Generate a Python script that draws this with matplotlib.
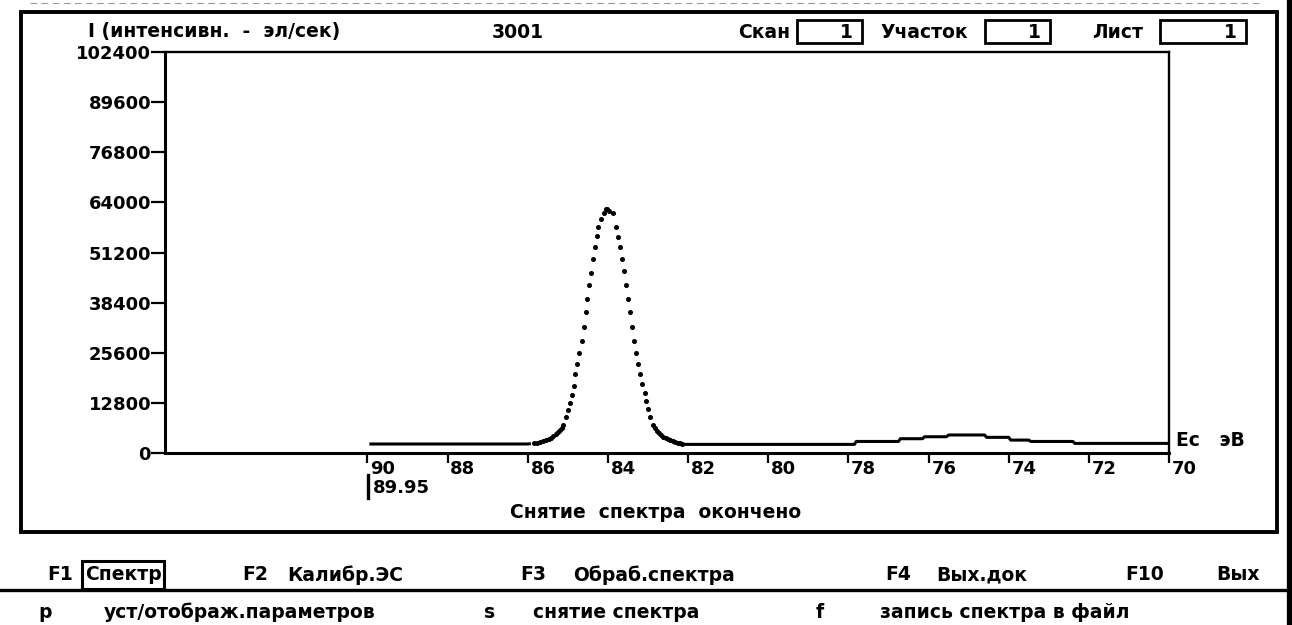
#!/usr/bin/env python
# -*- coding: utf-8 -*-
"""
Spectrum screen: electron spectrometer scan (I vs Ec)
"""
import matplotlib
matplotlib.use('Agg')
import matplotlib.pyplot as plt
from matplotlib.patches import Rectangle
from matplotlib.lines import Line2D
from matplotlib.transforms import ScaledTranslation

# =============================================================================
# Data
# =============================================================================
# flat part before the peak
left_e = [89.95, 88.0, 86.5, 86.0, 85.92]
left_c = [2300, 2300, 2300, 2300, 2400]
# peak points (dots, dense near the feet)
peak_e = [85.85, 85.78, 85.7, 85.63, 85.55, 85.48, 85.42, 85.36, 85.3,
          85.25, 85.2, 85.15, 85.11, 85.05, 84.99, 84.94, 84.89, 84.84,
          84.81, 84.76, 84.71, 84.65, 84.59, 84.55, 84.51, 84.46, 84.41,
          84.36, 84.31, 84.27, 84.24, 84.17, 84.10, 84.04, 84.01, 83.96,
          83.88, 83.80, 83.75, 83.70, 83.66, 83.60, 83.55, 83.50, 83.44,
          83.40, 83.34, 83.30, 83.26, 83.20, 83.15, 83.07, 83.04, 83.01,
          82.94, 82.87, 82.82, 82.77, 82.72, 82.67, 82.62, 82.56, 82.51,
          82.45, 82.38, 82.32, 82.26, 82.2, 82.14]
peak_c = [2450, 2600, 2800, 2990, 3250, 3550, 3900, 4300, 4750,
          5250, 5800, 6400, 7150, 9120, 10980, 12850, 14890, 17190,
          20180, 22650, 25620, 28680, 32260, 35930, 39330, 42910, 46050,
          49550, 52690, 55300, 57800, 59690, 61300, 62300, 62320, 61900,
          61220, 57800, 55200, 52690, 49550, 46560, 42910, 39330, 35930,
          32260, 28680, 25620, 22650, 20180, 17620, 15250, 13300, 11310,
          9120, 7150, 6300, 5600, 5030, 4500, 4100, 3750, 3450,
          3200, 3000, 2800, 2650, 2500, 2350]
# flat part after the peak with the broad hump
right_e = [82.14, 82.09, 80.0, 77.85, 77.8, 76.75, 76.7, 76.15, 76.1,
           75.55, 75.5, 74.6, 74.55, 74.0, 73.95, 73.5, 73.45, 72.4,
           72.35, 70.0]
right_c = [2350, 2200, 2200, 2200, 2950, 2950, 3650, 3650, 4150,
           4150, 4600, 4600, 4000, 4000, 3300, 3300, 2950, 2950,
           2450, 2450]

y_ticks = [0, 12800, 25600, 38400, 51200, 64000, 76800, 89600, 102400]
x_ticks = [90, 88, 86, 84, 82, 80, 78, 76, 74, 72, 70]
start_energy = '89.95'

header_label = 'I (интенсивн.  -  эл/сек)'
header_count = '3001'
fields = [('Скан', '1'), ('Участок', '1'), ('Лист', '1')]
fkeys = [('F1', 'Спектр'), ('F2', 'Калибр.ЭС'), ('F3', 'Обраб.спектра'),
         ('F4', 'Вых.док'), ('F10', 'Вых')]
hotkeys = [('p', 'уст/отображ.параметров'), ('s', 'снятие спектра'),
           ('f', 'запись спектра в файл')]

# =============================================================================
# Layout helpers (screen pixels -> figure fraction)
# =============================================================================
W, H = 1292, 625
FONT = dict(family='DejaVu Sans', fontweight='bold', fontsize=13.5)
TICKFONT = dict(family='DejaVu Sans', fontweight='bold', fontsize=13)


def fx(x):
    return x / W


def fy(y):
    return 1 - y / H


def ftext(fig, x, y, s, ha='center', **kw):
    opts = dict(FONT)
    opts.update(kw)
    fig.text(fx(x), fy(y), s, ha=ha, va='center', **opts)


def fbox(fig, x0, y0, x1, y1, lw=2.0):
    fig.add_artist(Rectangle((fx(x0), fy(y1)), fx(x1) - fx(x0),
                             fy(y0) - fy(y1), transform=fig.transFigure,
                             fill=False, lw=lw, ec='black'))


def fline(fig, xs, ys, lw=2.0, **kw):
    fig.add_artist(Line2D([fx(v) for v in xs], [fy(v) for v in ys],
                          transform=fig.transFigure, lw=lw, color='black',
                          **kw))


# =============================================================================
# Figure
# =============================================================================
fig = plt.figure(figsize=(W / 100, H / 100), dpi=100)
fig.patch.set_facecolor('white')

ax_l, ax_r, ax_t, ax_b = 165, 1169, 52, 453
ax = fig.add_axes([fx(ax_l), fy(ax_b), fx(ax_r) - fx(ax_l),
                   fy(ax_t) - fy(ax_b)])

ax.plot(left_e, left_c, color='black', lw=2.2, solid_capstyle='butt')
ax.plot(right_e, right_c, color='black', lw=2.2, solid_capstyle='butt')
ax.plot(peak_e, peak_c, ls='none', marker='o', ms=2.6, color='black')

ax.set_xlim(95.05, 70)
ax.set_ylim(0, 102400)

for side in ['left', 'bottom']:
    ax.spines[side].set_linewidth(2.2)
for side in ['top', 'right']:
    ax.spines[side].set_linewidth(1.7)

ax.set_yticks(y_ticks)
ax.set_yticklabels([str(v) for v in y_ticks], **TICKFONT)
ax.tick_params(axis='y', direction='out', length=10, width=1.6, pad=0)

ax.set_xticks(x_ticks)
ax.set_xticklabels([str(v) for v in x_ticks], **TICKFONT)
ax.tick_params(axis='x', direction='out', length=7, width=1.6, pad=-2)
offset = ScaledTranslation(2 / 72, 0, fig.dpi_scale_trans)
for lbl in ax.get_xticklabels():
    lbl.set_horizontalalignment('left')
    lbl.set_transform(lbl.get_transform() + offset)

# axis name on the right end
ftext(fig, 1176, 440, 'Ес   эВ', ha='left')

# start cursor
fline(fig, [368, 368], [475, 498], lw=2.4)
ftext(fig, 373, 488, start_energy, ha='left', fontsize=13)
ftext(fig, 656, 513, 'Снятие  спектра  окончено')

# header
ftext(fig, 88, 32, header_label, ha='left')
ftext(fig, 518, 32, header_count)
field_pos = [(764, 797, 862), (924, 985, 1050), (1118, 1160, 1246)]
for (name, val), (cx, b0, b1) in zip(fields, field_pos):
    ftext(fig, cx, 32, name)
    fbox(fig, b0, 20, b1, 43)
    ftext(fig, b1 - 9, 32, val, ha='right')

# outer frame and screen borders
fline(fig, [30, 1262], [3, 3], lw=0.8, ls=(0, (6, 4)), alpha=0.4)
fbox(fig, 21, 12, 1277, 532, lw=2.8)
fline(fig, [1289, 1289], [0, 625], lw=3.8)
fline(fig, [0, 1289], [590, 590], lw=2.4)

# function keys row
fk_pos = [(60, 123), (255, 345), (533, 654), (898, 982), (1145, 1238)]
for (key, name), (kx, nx) in zip(fkeys, fk_pos):
    ftext(fig, kx, 575, key)
    ftext(fig, nx, 575, name)
fbox(fig, 82, 561, 164, 589, lw=2.2)

# hot keys row
hk_pos = [(45, 240), (490, 616), (820, 1005)]
for (key, name), (kx, nx) in zip(hotkeys, hk_pos):
    ftext(fig, kx, 612, key)
    ftext(fig, nx, 612, name)

fig.savefig('out.png', dpi=100, facecolor='white')
